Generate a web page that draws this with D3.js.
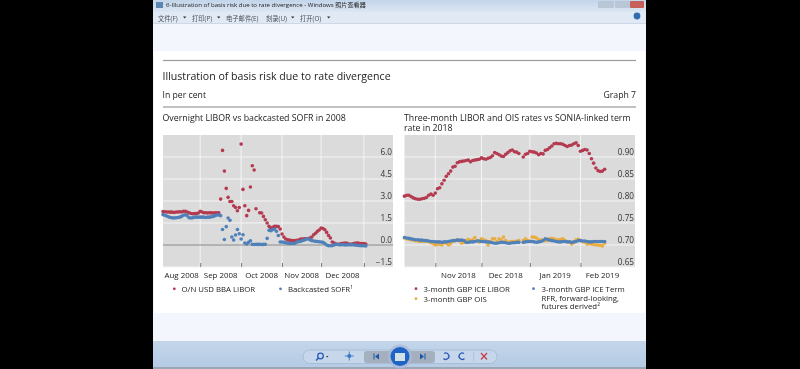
<!DOCTYPE html>
<html>
<head>
<meta charset="utf-8">
<script src="https://cdn.jsdelivr.net/npm/d3@7"></script>
<style>
html, body { margin:0; padding:0; background:#000; overflow:hidden; }
svg { display:block; filter:blur(0.55px); }
text { font-family:"Open Sans", "Noto Sans CJK SC", sans-serif; fill:#222; }
</style>
</head>
<body>
<svg></svg>
<script>
// left panel, one value per business day from early Aug 2008
var liborOn = [2.28,2.27,2.25,2.25,2.24,2.24,2.22,2.25,2.25,2.27,2.25,2.3,2.3,2.25,2.2,2.15,2.13,2.15,2.14,2.18,
    2.29,2.25,2.2,2.2,2.18,2.2,2.19,2.18,2.2,2.2,2.2,3.13,6.45,5.04,3.86,3.25,2.97,2.97,2.68,2.56,
    2.34,2.56,6.88,3.79,2.68,2.0,2.36,3.95,5.4,5.11,2.47,null,2.2,2.18,1.95,1.72,1.5,1.27,1.16,1.2,
    1.27,1.27,1.25,1.09,0.75,0.55,0.41,0.36,0.33,0.31,0.31,0.3,0.32,0.34,0.4,0.41,0.42,0.43,0.44,0.47,
    0.55,0.7,0.8,0.93,1.02,1.16,1.12,1.04,0.86,0.65,0.48,0.2,0.14,0.07,0.05,0.07,0.1,0.12,0.14,0.12,
    0.07,0.05,0.08,0.12,0.14,0.14,0.1,0.1,0.1,0.07];
var sofrBack = [2.07,2.03,1.98,1.92,1.88,1.85,1.84,1.86,1.88,1.9,1.95,2.03,2.06,2.0,1.86,1.84,1.86,1.9,1.9,1.9,
    1.9,1.9,1.9,1.88,1.9,1.9,1.92,1.95,2.0,2.05,2.05,2.0,1.06,0.38,1.25,1.84,1.68,0.55,0.34,0.68,
    1.06,0.77,0.41,0.7,0.14,0.07,0.18,0.29,0.05,0.03,0.05,0.04,0.05,0.03,0.04,0.05,0.45,1.0,0.98,1.05,
    1.09,0.93,0.65,0.2,0.2,0.18,0.15,0.13,0.1,0.1,0.1,0.12,0.2,0.22,0.26,0.3,0.34,0.4,0.43,0.35,
    0.3,0.27,0.25,0.24,0.22,0.2,0.18,0.1,0.0,-0.05,-0.05,-0.04,0.0,0.05,0.03,0.01,0.02,0.02,0.0,0.01,
    0.02,0.01,0.02,0.0,-0.02,-0.03,-0.04,-0.05,-0.05,-0.06];
var leftYTicks = [6.0,4.5,3.0,1.5,0.0,-1.5];
var leftMonths = ["Aug 2008","Sep 2008","Oct 2008","Nov 2008","Dec 2008"];
var leftBounds = [0,20,42,64,85,108];

// right panel, one value per business day from mid Oct 2018
var liborGbp = [0.811,0.813,0.813,0.81,0.807,0.805,0.804,0.804,0.805,0.806,0.808,0.813,0.816,0.813,0.818,0.828,0.83,0.839,0.847,0.856,
    0.862,0.868,0.877,0.879,0.887,0.889,0.89,0.891,0.892,0.893,0.889,0.892,0.893,0.894,0.895,0.898,0.896,0.895,0.897,0.899,
    0.903,0.91,0.908,0.905,0.902,0.901,0.906,0.91,0.914,0.916,0.912,0.911,0.908,null,0.9,0.906,0.908,0.913,0.912,0.911,
    0.909,0.905,0.908,0.907,0.915,0.917,0.921,0.925,0.93,0.931,0.93,0.93,0.929,0.926,0.924,0.926,0.927,0.93,0.932,0.926,
    0.913,0.915,0.917,0.916,0.908,0.896,0.886,0.875,0.869,0.867,0.868,0.872];
var oisGbp = [0.716,0.714,0.713,0.712,0.711,0.71,0.709,0.708,0.708,0.709,0.708,0.708,0.705,0.703,0.7,0.701,0.702,0.7,0.705,0.704,
    0.7,0.703,0.708,0.71,0.712,0.709,0.704,0.706,0.71,0.713,0.71,0.712,0.717,0.71,0.707,0.714,0.712,0.71,0.7,0.708,
    0.714,0.714,0.708,0.714,0.712,0.718,0.71,0.706,0.707,0.708,0.708,0.709,0.71,null,0.71,0.714,0.71,0.709,0.718,0.718,
    0.716,0.712,0.712,0.711,0.71,0.71,0.714,0.715,0.714,0.712,0.712,0.713,0.714,0.71,0.708,0.707,0.702,0.705,0.712,0.713,
    0.71,0.708,0.706,0.702,0.703,0.702,0.701,0.7,0.7,0.699,0.698,0.704];
var termRfr = [0.717,0.716,0.715,0.714,0.713,0.712,0.712,0.711,0.711,0.71,0.71,0.709,0.708,0.708,0.707,0.707,0.707,0.706,0.707,0.707,
    0.708,0.709,0.71,0.71,0.711,0.711,0.711,0.71,0.706,0.706,0.707,0.707,0.708,0.709,0.709,0.708,0.708,0.707,0.707,0.706,
    0.705,0.704,0.704,0.705,0.706,0.706,0.705,0.704,0.704,0.705,0.705,0.706,0.706,null,0.706,0.707,0.708,0.708,0.708,0.707,
    0.706,0.707,0.708,0.71,0.714,0.713,0.711,0.71,0.709,0.708,0.707,0.707,0.708,0.708,0.707,0.707,0.706,0.707,0.708,0.71,
    0.71,0.709,0.709,0.708,0.707,0.707,0.708,0.708,0.708,0.708,0.708,0.708];
var rightYTicks = [0.90,0.85,0.80,0.75,0.70,0.65];
var rightMonths = ["Nov 2018","Dec 2018","Jan 2019","Feb 2019"];
var rightBounds = [14,35,57,80,100];

var red = "#b43a50", blue = "#4f80b9", orange = "#e9ad42";
var panelTop = 135, panelBottom = 267;

var svg = d3.select("svg").attr("width", 800).attr("height", 369);

var drawChrome = function()
{
    var defs = svg.append("defs");
    var grad = defs.append("linearGradient").attr("id", "titleBar").attr("x1", 0).attr("x2", 0).attr("y1", 0).attr("y2", 1);
    grad.append("stop").attr("offset", 0).attr("stop-color", "#c3d5ea");
    grad.append("stop").attr("offset", 1).attr("stop-color", "#dbe6f3");
    var low = defs.append("linearGradient").attr("id", "lowBar").attr("x1", 0).attr("x2", 0).attr("y1", 0).attr("y2", 1);
    low.append("stop").attr("offset", 0).attr("stop-color", "#c3d5ea");
    low.append("stop").attr("offset", 1).attr("stop-color", "#b4cbe5");

    svg.append("rect").attr("width", 800).attr("height", 369).attr("fill", "#000");
    svg.append("rect").attr("x", 153).attr("width", 493).attr("height", 369).attr("fill", "#f3f6fc");
    svg.append("rect").attr("x", 153).attr("width", 493).attr("height", 12).attr("fill", "url(#titleBar)");
    svg.append("rect").attr("x", 153).attr("y", 12).attr("width", 493).attr("height", 12).attr("fill", "#e0e9f4");
    svg.append("rect").attr("x", 153).attr("y", 23).attr("width", 493).attr("height", 1).attr("fill", "#ccd8e6");
    svg.append("rect").attr("x", 154).attr("y", 51).attr("width", 491).attr("height", 262).attr("fill", "#fff");
    svg.append("rect").attr("x", 153).attr("y", 341).attr("width", 493).attr("height", 28).attr("fill", "url(#lowBar)");
    svg.append("rect").attr("x", 153).attr("y", 367).attr("width", 493).attr("height", 2).attr("fill", "#9aa6b4");

    svg.append("rect").attr("x", 156).attr("y", 2).attr("width", 7).attr("height", 6).attr("fill", "#5c86ad");
    svg.append("text").attr("x", 166).attr("y", 7).attr("font-size", 6.1).attr("fill", "#333")
        .text("6-Illustration of basis risk due to rate divergence - Windows 照片查看器");

    var menus = [["文件(F)",158],["打印(P)",192],["电子邮件(E)",226],["刻录(U)",266],["打开(O)",300]];
    svg.selectAll(".menu").data(menus).enter().append("text").attr("class", "menu")
        .attr("x", function(d) { return d[1]; }).attr("y", 20.5).attr("font-size", 6.3)
        .style("fill", "#4a4f58").text(function(d) { return d[0]; });
    var arrows = [183,217,291,327];
    svg.selectAll(".arrow").data(arrows).enter().append("path").attr("class", "arrow")
        .attr("d", function(d) { return "M"+d+",16.5h3.4l-1.7,2z"; }).attr("fill", "#333");

    svg.append("circle").attr("cx", 637).attr("cy", 16).attr("r", 3.4).attr("fill", "#2f6fb0");
    svg.append("rect").attr("x", 598).attr("y", 1).attr("width", 16).attr("height", 7).attr("rx", 1).attr("fill", "#b9c6d6");
    svg.append("rect").attr("x", 615).attr("y", 1).attr("width", 15).attr("height", 7).attr("rx", 1).attr("fill", "#b9c6d6");
    svg.append("rect").attr("x", 630).attr("y", 1).attr("width", 14).attr("height", 7).attr("rx", 1).attr("fill", "#c8605a");

    // bottom control bar
    svg.append("rect").attr("x", 303).attr("y", 350).attr("width", 194).attr("height", 13.5).attr("rx", 6.7)
        .attr("fill", "#c6d7ec").attr("stroke", "#9fb4cf").attr("stroke-width", 0.7);
    svg.append("rect").attr("x", 364).attr("y", 351).attr("width", 71).attr("height", 12).attr("rx", 3).attr("fill", "#a4b0bd");
    svg.append("circle").attr("cx", 400).attr("cy", 356.5).attr("r", 12).attr("fill", "#a9b9dc").attr("opacity", 0.8);
    svg.append("circle").attr("cx", 400).attr("cy", 356.5).attr("r", 9.5).attr("fill", "#1f63c4");
    svg.append("rect").attr("x", 395).attr("y", 353).attr("width", 10).attr("height", 8).attr("fill", "#cfe0ea");
    svg.append("circle").attr("cx", 320.5).attr("cy", 356).attr("r", 2.8).attr("fill", "none").attr("stroke", "#2b58b5").attr("stroke-width", 1.3);
    svg.append("path").attr("d", "M318.5,358l-2.5,2.5").attr("stroke", "#2b58b5").attr("stroke-width", 1.5);
    svg.append("path").attr("d", "M326,356h2.5l-1.25,1.4z").attr("fill", "#333");
    svg.append("circle").attr("cx", 349.3).attr("cy", 356).attr("r", 2).attr("fill", "#3a7ac4");
    svg.append("path").attr("d", "M349.3,351.5v9M344.8,356h9").attr("stroke", "#3a7ac4").attr("stroke-width", 0.9);
    svg.append("path").attr("d", "M373.5,353.5h1v6h-1zM379,353.5v6l-4,-3z").attr("fill", "#1f55a8");
    svg.append("path").attr("d", "M425.5,353.5h-1v6h1zM420,353.5v6l4,-3z").attr("fill", "#1f55a8");
    svg.append("path").attr("d", "M444,353.5a3.2,3.2 0 1 1 -0.5,5").attr("fill", "none").attr("stroke", "#2b58b5").attr("stroke-width", 1.3);
    svg.append("path").attr("d", "M464,353.5a3.2,3.2 0 1 0 0.5,5").attr("fill", "none").attr("stroke", "#2b58b5").attr("stroke-width", 1.3);
    svg.append("path").attr("d", "M481,353l6,6.5M487,353l-6,6.5").attr("stroke", "#c8404a").attr("stroke-width", 1.3);
    svg.append("rect").attr("x", 473.5).attr("y", 351.5).attr("width", 0.6).attr("height", 10).attr("fill", "#9fb4cf");
}

var drawHeadings = function()
{
    [60.5,107].forEach(function(y)
    {
        svg.append("rect").attr("x", 163).attr("y", y-0.6).attr("width", 473).attr("height", 1.2).attr("fill", "#9b9b9b");
    });
    svg.append("text").attr("x", 162.5).attr("y", 79.5).attr("font-size", 10.6).text("Illustration of basis risk due to rate divergence");
    svg.append("text").attr("x", 162.5).attr("y", 98).attr("font-size", 8.7).text("In per cent");
    svg.append("text").attr("x", 636).attr("y", 98).attr("font-size", 8.7).attr("text-anchor", "end").text("Graph 7");
    svg.append("text").attr("x", 162.5).attr("y", 120.5).attr("font-size", 8.8).text("Overnight LIBOR vs backcasted SOFR in 2008");
    svg.append("text").attr("x", 404).attr("y", 120.5).attr("font-size", 8.75).text("Three-month LIBOR and OIS rates vs SONIA-linked term");
    svg.append("text").attr("x", 404).attr("y", 131).attr("font-size", 8.75).text("rate in 2018");
}

// one grey panel: grid, ticks, y labels sit just above their grid line
var drawPanel = function(xScale, yScale, yTicks, bounds, months, tickBounds, fmt)
{
    var g = svg.append("g");
    var x0 = xScale.range()[0], x1 = xScale.range()[1];
    g.append("rect").attr("x", x0).attr("y", panelTop).attr("width", x1-x0).attr("height", panelBottom-panelTop).attr("fill", "#dcdbdc");

    g.selectAll(".hgrid").data(yTicks).enter().append("line").attr("class", "hgrid")
        .attr("x1", x0).attr("x2", x1)
        .attr("y1", function(d) { return yScale(d); }).attr("y2", function(d) { return yScale(d); })
        .attr("stroke", "#f4f4f4").attr("stroke-width", 1);
    g.selectAll(".vgrid").data(tickBounds).enter().append("line").attr("class", "vgrid")
        .attr("x1", function(d) { return xScale(d); }).attr("x2", function(d) { return xScale(d); })
        .attr("y1", panelTop).attr("y2", panelBottom)
        .attr("stroke", "#f4f4f4").attr("stroke-width", 1);

    var yAxis = d3.axisRight(yScale).tickValues(yTicks).tickSize(0).tickFormat(fmt);
    var yG = g.append("g").attr("transform", "translate("+x1+",0)").call(yAxis);
    yG.select(".domain").remove();
    yG.selectAll("text").attr("x", -1).attr("dy", "-0.35em").attr("text-anchor", "end").attr("font-size", 8.2)
        .style("font-family", "\"Open Sans\", sans-serif").style("fill", "#333");

    var xAxis = d3.axisBottom(xScale).tickValues(tickBounds).tickSize(-4).tickFormat("");
    var xG = g.append("g").attr("transform", "translate(0,"+panelBottom+")").call(xAxis);
    xG.select(".domain").remove();
    xG.selectAll("line").attr("stroke", "#7d7d7d");

    g.selectAll(".month").data(months).enter().append("text").attr("class", "month")
        .attr("x", function(d, i) { return xScale((bounds[i]+bounds[i+1])/2); })
        .attr("y", 278).attr("font-size", 7.9).attr("text-anchor", "middle").text(function(d) { return d; });
}

var drawDots = function(values, color, xScale, yScale)
{
    var pts = [];
    values.forEach(function(v, i) { if (v !== null) pts.push({i:i, v:v}); });
    svg.append("g").attr("fill", color).selectAll("circle").data(pts).enter().append("circle")
        .attr("cx", function(d) { return xScale(d.i); })
        .attr("cy", function(d) { return yScale(d.v); })
        .attr("r", 1.8);
}

var drawLegendItem = function(cx, cy, color, lines, textX, sup)
{
    svg.append("circle").attr("cx", cx).attr("cy", cy).attr("r", 1.4).attr("fill", color);
    var lineYs = [cy+3, cy+12, cy+20.5];
    lines.forEach(function(s, i)
    {
        var t = svg.append("text").attr("x", textX).attr("y", lineYs[i]).attr("font-size", 7.8).text(s);
        if (sup && i == lines.length-1)
        {
            t.append("tspan").attr("dy", -3).attr("font-size", 5).text(sup);
        }
    });
}

drawChrome();
drawHeadings();

var xLeft = d3.scaleLinear().domain([0,123.65]).range([163,393]);
var yLeft = d3.scaleLinear().domain([-1.5,7.5]).range([panelBottom,panelTop]);
var xRight = d3.scaleLinear().domain([0,104.8]).range([404.5,635]);
var yRight = d3.scaleLinear().domain([0.65,0.95]).range([panelBottom,panelTop]);

drawPanel(xLeft, yLeft, leftYTicks, leftBounds, leftMonths, leftBounds.slice(1), function(d) { return d < 0 ? "\u2212"+d3.format(".1f")(-d) : d3.format(".1f")(d); });
drawPanel(xRight, yRight, rightYTicks, rightBounds, rightMonths, rightBounds.slice(0,4), d3.format(".2f"));

svg.append("line").attr("x1", 163).attr("x2", 393).attr("y1", yLeft(0)).attr("y2", yLeft(0)).attr("stroke", "#7f7f7f").attr("stroke-width", 1.2);

drawDots(liborOn, red, xLeft, yLeft);
drawDots(sofrBack, blue, xLeft, yLeft);
drawDots(oisGbp, orange, xRight, yRight);
drawDots(termRfr, blue, xRight, yRight);
drawDots(liborGbp, red, xRight, yRight);

drawLegendItem(174.3, 288.8, red, ["O/N USD BBA LIBOR"], 181.5);
drawLegendItem(280.5, 288.8, blue, ["Backcasted SOFR"], 288, "1");
drawLegendItem(416, 288.7, red, ["3-month GBP ICE LIBOR"], 423.5);
drawLegendItem(416, 298.7, orange, ["3-month GBP OIS"], 423.5);
drawLegendItem(533.5, 288.7, blue, ["3-month GBP ICE Term","RFR, forward-looking,","futures derived"], 541.5, "2");
</script>
</body>
</html>
